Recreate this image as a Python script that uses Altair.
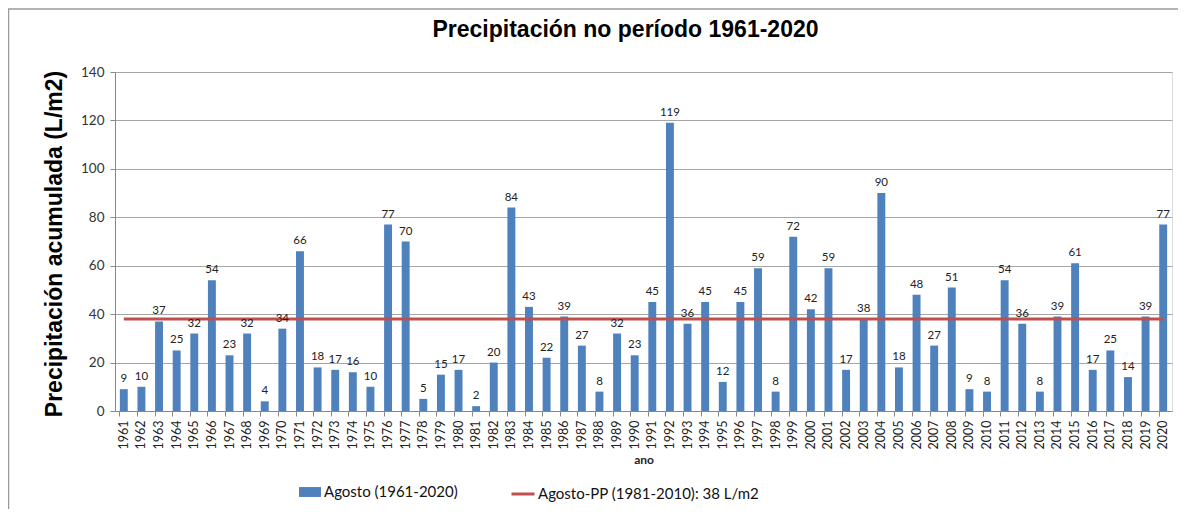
import altair as alt
import pandas as pd

YEARS = [str(y) for y in range(1961, 2021)]
VALUES = [9, 10, 37, 25, 32, 54, 23, 32, 4, 34,
          66, 18, 17, 16, 10, 77, 70, 5, 15, 17,
          2, 20, 84, 43, 22, 39, 27, 8, 32, 23,
          45, 119, 36, 45, 12, 45, 59, 8, 72, 42,
          59, 17, 38, 90, 18, 48, 27, 51, 9, 8,
          54, 36, 8, 39, 61, 17, 25, 14, 39, 77]
PP = 38
BAR_SERIES = "Agosto (1961-2020)"
LINE_SERIES = "Agosto-PP (1981-2010): 38 L/m2"
TITLE = "Precipitación no período 1961-2020"
Y_TITLE = "Precipitación acumulada (L/m2)"
X_TITLE = "ano"
Y_TICKS = [0, 20, 40, 60, 80, 100, 120, 140]

BLUE = "#4F81BD"
RED = "#C0504D"
GRID = "#a6a6a6"
FONT = "Lato"
TFONT = "Liberation Sans"

df = pd.DataFrame({
    "ano": YEARS,
    "valor": VALUES,
    "pp": [PP] * len(YEARS),
    "s1": [BAR_SERIES] * len(YEARS),
    "s2": [LINE_SERIES] * len(YEARS),
})

W, H = 1057, 339

x_enc = alt.X(
    "ano:O",
    sort=YEARS,
    scale=alt.Scale(paddingInner=0.55, paddingOuter=0.275),
    axis=alt.Axis(
        title=X_TITLE, labelAngle=-90, labelFontSize=12.5, labelFont=FONT,
        labelColor="#222", titleFont=FONT, titleFontSize=12, titleFontWeight="bold",
        titleColor="#222", titlePadding=6, bandPosition=0, tickSize=5,
        tickColor="#888", domainColor="#888", labelPadding=4,
    ),
)

y_scale = alt.Scale(domain=[0, 140], nice=False)
y_axis = alt.Axis(
    values=Y_TICKS, title=Y_TITLE, titleFont=TFONT, titleFontSize=23,
    titleFontWeight="bold", titleColor="#000", titleX=-61, titleY=H / 2 + 2,
    titleBaseline="middle", titleAlign="center",
    labelFont=FONT, labelFontSize=13.5, labelColor="#333",
    grid=True, gridColor=GRID, domainColor="#888", tickColor="#888",
    tickSize=5, labelPadding=6,
)

base = alt.Chart(df)

bars = base.mark_bar().encode(
    x=x_enc,
    y=alt.Y("valor:Q", scale=y_scale, axis=y_axis),
    color=alt.Color(
        "s1:N",
        scale=alt.Scale(domain=[BAR_SERIES], range=[BLUE]),
        legend=alt.Legend(
            title=None, orient="none", legendX=184, legendY=409,
            symbolType="M-1,-0.45H1V0.45H-1Z", symbolSize=484,
            symbolStrokeWidth=0, labelFont=FONT, labelFontSize=15,
            labelColor="#111", labelOffset=3, padding=0, labelLimit=400,
        ),
    ),
)

line = base.mark_line(strokeWidth=3).encode(
    x=x_enc,
    y=alt.Y("pp:Q", scale=y_scale, axis=y_axis),
    stroke=alt.Stroke(
        "s2:N",
        scale=alt.Scale(domain=[LINE_SERIES], range=[RED]),
        legend=alt.Legend(
            title=None, orient="none", legendX=395, legendY=409,
            symbolType="stroke", symbolSize=529, symbolStrokeWidth=3,
            labelFont=FONT, labelFontSize=15, labelColor="#111",
            labelOffset=2, padding=0, labelLimit=400,
        ),
    ),
)

labels = base.mark_text(
    dy=-7, baseline="alphabetic", fontSize=11.5, font=FONT, color="#222"
).encode(
    x=x_enc,
    y=alt.Y("valor:Q", scale=y_scale, axis=y_axis),
    text=alt.Text("valor:Q"),
)

frame_data = alt.Data(values=[{"k": 0}])
frame_top = alt.Chart(frame_data).mark_rule(color="#9a9a9a", strokeWidth=1.5).encode(
    x=alt.value(-108), x2=alt.value(1070), y=alt.value(-63)
)
frame_left = alt.Chart(frame_data).mark_rule(color="#9a9a9a", strokeWidth=1.5).encode(
    x=alt.value(-106.5), y=alt.value(-63), y2=alt.value(440)
)

chart = alt.layer(bars, line, labels, frame_top, frame_left).properties(
    width=W,
    height=H,
    title=alt.TitleParams(
        TITLE, font=TFONT, fontSize=23, fontWeight="bold", color="#000",
        anchor="middle", dx=-18, offset=-34,
    ),
    autosize=alt.AutoSizeParams(type="none"),
    padding={"left": 107, "top": 64, "right": 6, "bottom": 98},
).configure_view(
    stroke=GRID, strokeWidth=1
).configure(background="white")

chart.save("out.html", embed_options={"renderer": "svg", "actions": False})
